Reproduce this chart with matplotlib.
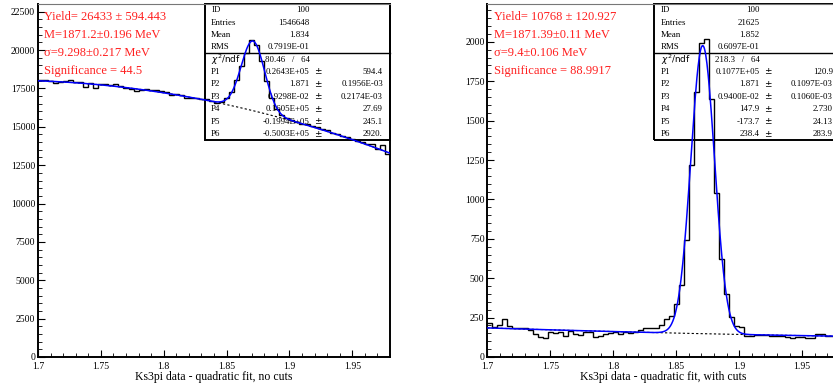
import numpy as np
import matplotlib
matplotlib.use("Agg")
from matplotlib import pyplot as plt
from matplotlib.ticker import MultipleLocator

plt.rcParams['font.family'] = ['Liberation Serif', 'DejaVu Serif']
plt.rcParams['mathtext.fontset'] = 'dejavusans'

# histogram binning: 70 bins of 4 MeV between 1.70 and 1.98 GeV
edges = np.linspace(1.70, 1.98, 71)

left_counts = [18040, 18050, 17980, 17860, 17930, 17960, 18030, 17920, 17900, 17600,
               17870, 17550, 17760, 17760, 17720, 17780, 17640, 17500, 17480, 17320,
               17420, 17450, 17380, 17400, 17330, 17250, 17100, 17120, 17080, 16890,
               16900, 16870, 16800, 16780, 16700, 16580, 16620, 16900, 17250, 18020,
               18950, 19800, 20650, 20320, 19300, 18000, 16900, 16150, 15780, 15560,
               15420, 15330, 15200, 15150, 15050, 14960, 14870, 14800, 14620, 14560,
               14420, 14330, 14230, 14060, 13980, 13900, 13850, 13560, 13800, 13220]

right_counts = [216, 190, 201, 241, 195, 186, 182, 182, 169, 148,
                127, 123, 157, 152, 161, 131, 165, 148, 140, 159,
                157, 127, 131, 148, 152, 157, 148, 161, 152, 161,
                169, 182, 186, 182, 203, 241, 258, 339, 455, 741,
                1218, 1680, 1995, 2016, 1637, 1038, 625, 400, 256, 195,
                190, 136, 135, 137, 140, 139, 131, 134, 136, 124,
                123, 125, 128, 118, 119, 143, 145, 131, 132, 130]

# fit parameters P1..P6 (gaussian yield, mean, sigma; quadratic background)
left_par = [26430, 1.871, 0.009298, 16050, -19940, -50030]
right_par = [10770, 1.871, 0.0094, 147.9, -173.7, 238.4]

left_stats = ["100", "1546648", "1.834", "0.7919E-01"]
right_stats = ["100", "21625", "1.852", "0.6097E-01"]
left_chi = "80.46   /   64"
right_chi = "218.3   /   64"
left_pvals = ["0.2643E+05", "1.871", "0.9298E-02", "0.1605E+05", "-0.1994E+05", "-0.5003E+05"]
left_perrs = ["594.4", "0.1956E-03", "0.2174E-03", "27.69", "245.1", "2920."]
right_pvals = ["0.1077E+05", "1.871", "0.9400E-02", "147.9", "-173.7", "238.4"]
right_perrs = ["120.9", "0.1097E-03", "0.1060E-03", "2.730", "24.13", "283.9"]

left_notes = ["Yield= 26433 \u00b1 594.443", "M=1871.2\u00b10.196 MeV",
              "\u03c3=9.298\u00b10.217 MeV", "Significance = 44.5"]
right_notes = ["Yield= 10768 \u00b1 120.927", "M=1871.39\u00b10.11 MeV",
               "\u03c3=9.4\u00b10.106 MeV", "Significance = 88.9917"]

titles = ["Ks3pi data - quadratic fit, no cuts", "Ks3pi data - quadratic fit, with cuts"]

BW = 0.004


def background(x, p):
    d = x - p[1]
    return p[3] + p[4] * d + p[5] * d * d


def fitfunc(x, p):
    amp = p[0] * BW / (np.sqrt(2 * np.pi) * p[2])
    return amp * np.exp(-0.5 * ((x - p[1]) / p[2]) ** 2) + background(x, p)


def draw_panel(ax, counts, par, ymax, ymajor, yminor, stats, chi, pvals, perrs, notes, title):
    xx = np.linspace(1.70, 1.98, 600)
    ax.plot(xx, background(xx, par), color='black', ls=(0, (2, 2)), lw=0.8, zorder=3)
    ax.stairs(counts, edges, baseline=None, color='black', lw=1.0, zorder=4)
    ax.plot(xx, fitfunc(xx, par), color='#0000ff', lw=1.1, zorder=5)

    ax.set_xlim(1.70, 1.98)
    ax.set_ylim(0, ymax)
    ax.xaxis.set_major_locator(MultipleLocator(0.05))
    ax.xaxis.set_minor_locator(MultipleLocator(0.01))
    ax.yaxis.set_major_locator(MultipleLocator(ymajor))
    ax.yaxis.set_minor_locator(MultipleLocator(yminor))
    ax.xaxis.set_major_formatter(matplotlib.ticker.FuncFormatter(lambda v, _: ('%.2f' % v).rstrip('0').rstrip('.')))
    ax.tick_params(which='both', direction='in', top=False, right=False, labelsize=7)
    ax.tick_params(axis='y', pad=2)
    ax.tick_params(axis='x', pad=3.5)
    ax.tick_params(which='major', length=5, width=0.8)
    ax.tick_params(which='minor', length=3, width=0.6)
    for s in ['left', 'bottom', 'right']:
        ax.spines[s].set_linewidth(1.4)
    ax.spines['top'].set_linewidth(0.8)
    ax.spines['top'].set_color('#777777')
    ax.set_xlabel(title, fontsize=8.5, labelpad=0)

    # fit summary in red
    for i, t in enumerate(notes):
        ax.text(0.018, 0.963 - i * 0.051, t, transform=ax.transAxes, color='#ff2020',
                fontsize=9, va='center', ha='left', zorder=6)

    # statistics box
    bx0, by0 = 0.474, 0.615
    ax.add_patch(plt.Rectangle((bx0, by0), 1.0 - bx0, 1.0 - by0, transform=ax.transAxes,
                               fill=False, ec='black', lw=1.4, clip_on=False, zorder=2))
    ax.plot([bx0, 1.0], [0.861, 0.861], transform=ax.transAxes, color='black', lw=1.0,
            clip_on=False, zorder=2)
    rows = [0.983, 0.946, 0.912, 0.878]
    for lab, val, y in zip(["ID", "Entries", "Mean", "RMS"], stats, rows):
        ax.text(0.492, y, lab, transform=ax.transAxes, fontsize=6.4, va='center', zorder=2)
        ax.text(0.772, y, val, transform=ax.transAxes, fontsize=6.4, va='center', ha='right', zorder=2)
    ax.text(0.492, 0.841, r'$\chi^2$/ndf', transform=ax.transAxes, fontsize=6.4, va='center',
            family='DejaVu Sans', zorder=2)
    ax.text(0.772, 0.841, chi, transform=ax.transAxes, fontsize=6.4, va='center', ha='right', zorder=2)
    for i, (v, e) in enumerate(zip(pvals, perrs)):
        y = 0.808 - i * 0.0355
        ax.text(0.492, y, "P%d" % (i + 1), transform=ax.transAxes, fontsize=6.4, va='center', zorder=2)
        ax.text(0.772, y, v, transform=ax.transAxes, fontsize=6.4, va='center', ha='right', zorder=2)
        ax.text(0.784, y, "\u00b1", transform=ax.transAxes, fontsize=6.4, va='center',
                family='DejaVu Sans', zorder=2)
        ax.text(0.98, y, e, transform=ax.transAxes, fontsize=6.4, va='center', ha='right',
                clip_on=False, zorder=2)


fig = plt.figure(figsize=(8.33, 3.89), dpi=100)
ax1 = fig.add_axes([38 / 833, 32 / 389, 352 / 833, 353 / 389])
ax2 = fig.add_axes([487.3 / 833, 32 / 389, 352.7 / 833, 353 / 389])

draw_panel(ax1, left_counts, left_par, 23000, 2500, 500, left_stats, left_chi,
           left_pvals, left_perrs, left_notes, titles[0])
draw_panel(ax2, right_counts, right_par, 2240, 250, 50, right_stats, right_chi,
           right_pvals, right_perrs, right_notes, titles[1])

fig.savefig("out.png", dpi=100)
